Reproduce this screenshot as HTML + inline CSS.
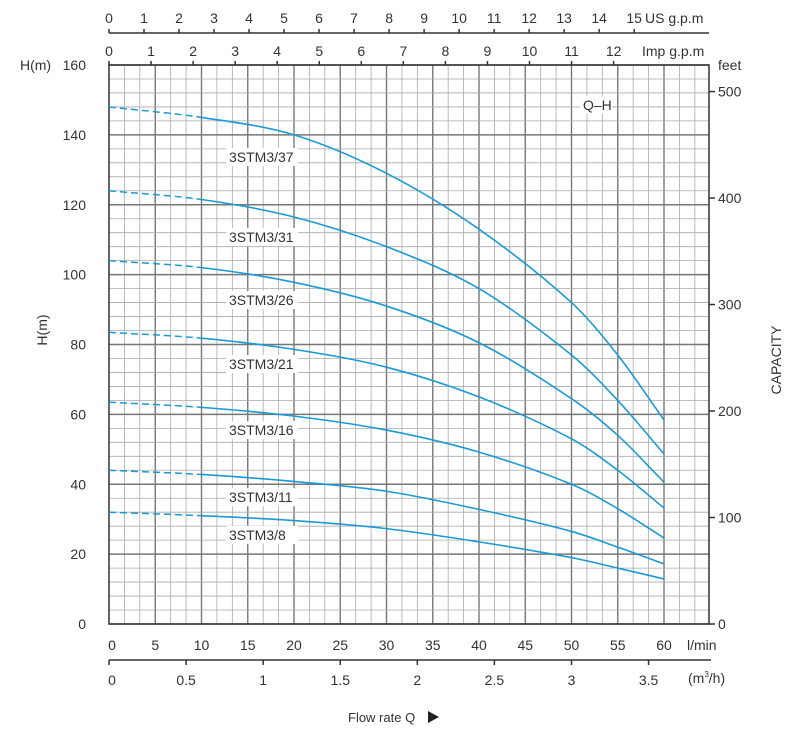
<!DOCTYPE html>
<html><head><meta charset="utf-8"><style>
body{margin:0;background:#fff;}
svg text{font-family:"Liberation Sans",Arial,sans-serif;fill:#333;}
</style></head><body>
<svg id="c" width="797" height="732" xmlns="http://www.w3.org/2000/svg"></svg>
<script>
const flows=[0,10,20,30,40,50,55,60];
const models=["3STM3/37","3STM3/31","3STM3/26","3STM3/21","3STM3/16","3STM3/11","3STM3/8"];
const h37=[148,145,140,129,113,92,77,58.4];
const h31=[124,121.5,116.5,108,96,77,64,48.7];
const h26=[104,102,97.8,91,80.5,64.5,54,40.6];
const h21=[83.5,81.8,78.6,73.5,65,53,44,33.2];
const h16=[63.5,62,59.5,55.5,49.2,40,33,24.6];
const h11=[44,42.8,40.8,38,32.8,26.5,22,17.2];
const h8=[32,31,29.6,27.3,23.5,19,16,12.9];
const labelY=[133.7,110.8,92.7,74.4,55.5,36.3,25.5];
const hTicks=[0,20,40,60,80,100,120,140,160];
const lminTicks=[0,5,10,15,20,25,30,35,40,45,50,55,60];
const m3hTicks=[0,0.5,1,1.5,2,2.5,3,3.5];
const usTicks=[0,1,2,3,4,5,6,7,8,9,10,11,12,13,14,15];
const impTicks=[0,1,2,3,4,5,6,7,8,9,10,11,12];
const feetTicks=[0,100,200,300,400,500];
const series=[h37,h31,h26,h21,h16,h11,h8];

const NS="http://www.w3.org/2000/svg",svg=document.getElementById('c');
const X0=109,PX=9.25,Y0=624,PY=559/160,XR=709,YT=65;
const sx=q=>X0+q*PX, sy=h=>Y0-h*PY;
function el(t,a,p){const e=document.createElementNS(NS,t);for(const k in a)e.setAttribute(k,a[k]);(p||svg).appendChild(e);return e;}
function txt(s,x,y,o){const e=el('text',Object.assign({x:x,y:y,'font-size':14},o||{}));e.textContent=s;return e;}

const g=el('g',{});
for(let i=0;i<=39;i++){const q=i*5/3,x=sx(q);if(x>XR+0.5)break;const maj=i%3==0&&i>0;
 el('line',{x1:x,y1:YT,x2:x,y2:Y0,stroke:maj?'#777':'#aaa','stroke-width':maj?1.4:0.8},g);}
for(let h=0;h<=160;h+=4){const y=sy(h),maj=h%20==0;
 el('line',{x1:X0,y1:y,x2:XR,y2:y,stroke:maj?'#777':'#aaa','stroke-width':maj?1.4:0.8},g);}
const fr=el('rect',{x:X0,y:YT,width:XR-X0,height:Y0-YT,fill:'none',stroke:'#333','stroke-width':1.5});


// labels first (behind curves)
series.forEach((s,k)=>{
 const ly=sy(labelY[k]);
 el('rect',{x:226,y:ly-9,width:72,height:18,fill:'#fff'});
 const t=txt(models[k],229,ly+5);
});
// hermite through points with slope-based tangents (nonuniform x)
function curve(pts,a,b){
 const n=pts.length,m=[];
 for(let i=0;i<n;i++){const p=pts[Math.max(0,i-1)],q=pts[Math.min(n-1,i+1)];m.push((q[1]-p[1])/(q[0]-p[0]));}
 let d=`M${pts[a][0]},${pts[a][1]}`;
 for(let i=a;i<b;i++){const p1=pts[i],p2=pts[i+1],h=(p2[0]-p1[0])/3;
  d+=` C${p1[0]+h},${p1[1]+m[i]*h} ${p2[0]-h},${p2[1]-m[i+1]*h} ${p2[0]},${p2[1]}`;}
 return d;}
series.forEach((s,k)=>{
 const pts=flows.map((q,i)=>[sx(q),sy(s[i])]);
 const dash=el('path',{d:curve(pts,0,1),fill:'none',stroke:'#1a9ad6','stroke-width':1.5,'stroke-dasharray':'7,4'});
 
 const sol=el('path',{d:curve(pts,1,pts.length-1),fill:'none',stroke:'#1a9ad6','stroke-width':1.6});
 
});
el('rect',{x:580,y:96,width:32,height:18,fill:'#fff'});
const qh=txt('Q–H',583,110);

hTicks.forEach(h=>{const t=txt(h,86,sy(h)+5,{'text-anchor':'end'});});
let t=txt('H(m)',20,70);
t=txt('H(m)',47,330,{transform:'rotate(-90 47 330)','text-anchor':'middle'});
feetTicks.forEach(f=>{const y=sy(f*0.3048);el('line',{x1:XR,y1:y,x2:XR+6,y2:y,stroke:'#333','stroke-width':1.5});
 const tt=txt(f,718,y+5);});
t=txt('feet',718,70);
t=txt('CAPACITY',781,360,{transform:'rotate(-90 781 360)','text-anchor':'middle'});
lminTicks.forEach(q=>{const tt=txt(q,sx(q)+(q==0?3:0),650,{'text-anchor':'middle'});});
t=txt('l/min',687,650);
el('line',{x1:X0,y1:660,x2:711,y2:660,stroke:'#333','stroke-width':1.5});
m3hTicks.forEach(m=>{const x=sx(m*1000/60);el('line',{x1:x,y1:660,x2:x,y2:665,stroke:'#333','stroke-width':1.5});
 const tt=txt(m,x+(m==0?3:0),685,{'text-anchor':'middle'});});
t=el('text',{x:688,y:683,'font-size':14});t.innerHTML='(m<tspan font-size="8" dy="-6">3</tspan><tspan dy="6">/h)</tspan>';

t=txt('Flow rate Q',348,722,{'font-size':13});
el('polygon',{points:'428,711 428,723 439,717',fill:'#222'});
impTicks.forEach(v=>{const x=sx(v*4.546);el('line',{x1:x,y1:YT,x2:x,y2:YT-4,stroke:'#333','stroke-width':1.5});
 const tt=txt(v,x,56,{'text-anchor':'middle'});});
t=txt('Imp g.p.m',642,56);
el('line',{x1:X0,y1:33,x2:709,y2:33,stroke:'#333','stroke-width':1.5});
usTicks.forEach(v=>{const x=sx(v*3.785);el('line',{x1:x,y1:33,x2:x,y2:29,stroke:'#333','stroke-width':1.5});
 const tt=txt(v,x,23,{'text-anchor':'middle'});});
t=txt('US g.p.m',645,23);
</script>
</body></html>
